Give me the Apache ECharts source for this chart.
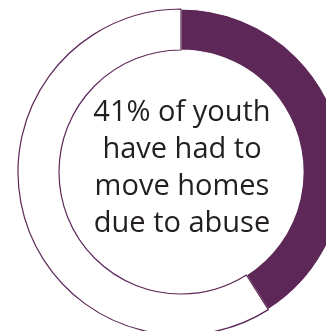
<!DOCTYPE html>
<html>
<head>
<meta charset="utf-8">
<script src="https://cdn.jsdelivr.net/npm/echarts@6/dist/echarts.min.js"></script>
<style>
  html, body { margin: 0; padding: 0; background: #ffffff; }
  #chart { width: 326px; height: 331px; }
</style>
</head>
<body>
<div id="chart"></div>
<script>
// Share of youth who had to move homes due to abuse
const categories = ['Moved homes', 'Did not move'];
const shares = [41, 59];
const captionLines = ['41% of youth', 'have had to', 'move homes', 'due to abuse'];

const purple = '#5d2858';

const chart = echarts.init(document.getElementById('chart'), null, { renderer: 'canvas' });

chart.setOption({
  animation: false,
  backgroundColor: '#ffffff',
  series: [{
    type: 'pie',
    center: [181, 172],
    radius: [122, 163],
    startAngle: 90,
    clockwise: true,
    silent: true,
    label: { show: false },
    labelLine: { show: false },
    data: [
      { name: categories[0], value: shares[0],
        itemStyle: { color: purple, borderColor: '#ffffff', borderWidth: 1.2 } },
      { name: categories[1], value: shares[1],
        itemStyle: { color: '#ffffff', borderColor: purple, borderWidth: 1.2 } }
    ]
  }],
  graphic: [{
    type: 'text',
    x: 182,
    y: 168,
    style: {
      text: captionLines.join('\n'),
      font: '29px "Open Sans"',
      fill: '#231f20',
      align: 'center',
      verticalAlign: 'middle',
      lineHeight: 37
    }
  }]
});
</script>
</body>
</html>
